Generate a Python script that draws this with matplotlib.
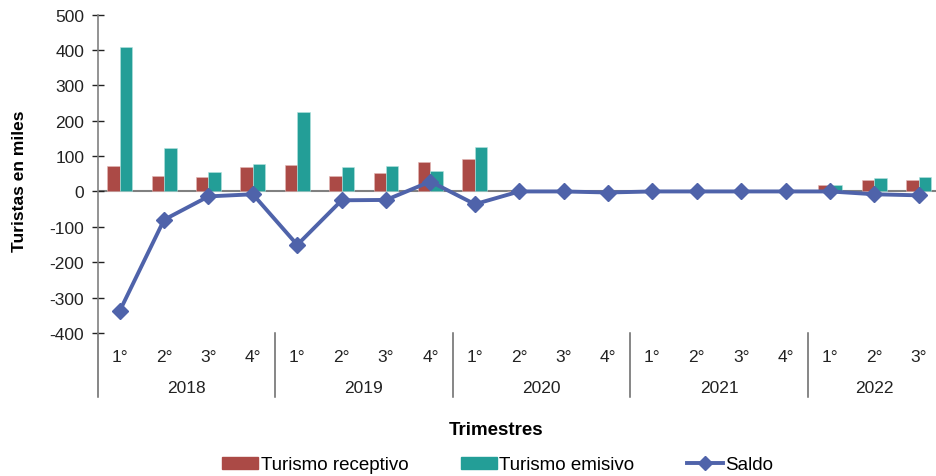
import matplotlib
matplotlib.use("Agg")
import matplotlib.pyplot as plt
import matplotlib.transforms as mtransforms
from matplotlib.patches import Patch
from matplotlib.lines import Line2D
import numpy as np

plt.rcParams['font.family'] = ['Liberation Sans', 'DejaVu Sans']
plt.rcParams['axes.unicode_minus'] = False

# datos (miles de turistas)
trimestres = ["1°", "2°", "3°", "4°"] * 4 + ["1°", "2°", "3°"]
anios = ["2018", "2019", "2020", "2021", "2022"]
anio_centros = [1.5, 5.5, 9.5, 13.5, 17]
receptivo = [72, 44, 42, 69, 74, 45, 52, 84, 92, 0, 0, 0, 0, 0, 0, 0, 19, 31, 33]
emisivo = [407, 124, 55, 77, 225, 69, 73, 57, 127, 0, 0, 0, 0, 0, 0, 0, 18, 39, 42]
saldo = [-338, -80, -14, -8, -151, -25, -24, 28, -36, 0, 0, -3, 0, 0, 0, 0, 0, -8, -11]

c_rec = "#AB4A46"
c_em = "#239E97"
c_sal = "#4F63AA"

fig = plt.figure(figsize=(9.36, 4.77), dpi=100)
ax = fig.add_axes([97.5/936, 1 - 334/477, 843.5/936, (334 - 15.5)/477])

x = np.arange(len(trimestres))
w = 0.28
ax.bar(x - w/2, receptivo, w, color=c_rec, edgecolor="#e3b8b6", linewidth=0.4, zorder=2)
ax.bar(x + w/2, emisivo, w, color=c_em, edgecolor="#b5e3df", linewidth=0.4, zorder=2)
ax.axhline(0, color="#808080", lw=1.5, zorder=1)
ax.plot(x, saldo, color=c_sal, lw=2.8, marker="D", markersize=8, zorder=3)

ax.set_xlim(-0.5, 18.5)
ax.set_ylim(-400, 500)
ax.set_yticks(range(-400, 501, 100))
ax.tick_params(axis="y", direction="inout", length=9, width=1, labelsize=12.5,
               colors="#222222", pad=5)
ax.set_xticks([])
for s in ["top", "right", "bottom"]:
    ax.spines[s].set_visible(False)
ax.spines["left"].set_color("#808080")
ax.spines["left"].set_linewidth(1.2)
ax.set_ylabel("Turistas en miles", fontsize=12.5, fontweight="bold")
ax.yaxis.set_label_coords(-0.083, 0.48)

# eje de categorías en dos niveles
tr = mtransforms.blended_transform_factory(ax.transData, ax.transAxes)
for i, t in enumerate(trimestres):
    ax.text(i, -0.075, t, transform=tr, ha="center", va="center", fontsize=12.5, color="#222222")
for a, c in zip(anios, anio_centros):
    ax.text(c, -0.17, a, transform=tr, ha="center", va="center", fontsize=12.5, color="#222222")
for xs in [-0.5, 3.5, 7.5, 11.5, 15.5]:
    ax.plot([xs, xs], [0, -0.2], transform=tr, color="#666666", lw=1.1, clip_on=False)

fig.text(496/936, 1 - 431/477, "Trimestres", ha="center", va="center",
         fontsize=13.5, fontweight="bold")

handles = [Patch(color=c_rec), Patch(color=c_em),
           Line2D([], [], color=c_sal, lw=2.8, marker="D", markersize=7.5)]
fig.legend(handles, ["Turismo receptivo", "Turismo emisivo", "Saldo"],
           loc="center", bbox_to_anchor=(498/936, 1 - 466/477), ncol=3, frameon=False,
           fontsize=13.5, handlelength=1.9, handleheight=0.55, handletextpad=0.15,
           columnspacing=2.8)

fig.savefig("out.png", dpi=100)
